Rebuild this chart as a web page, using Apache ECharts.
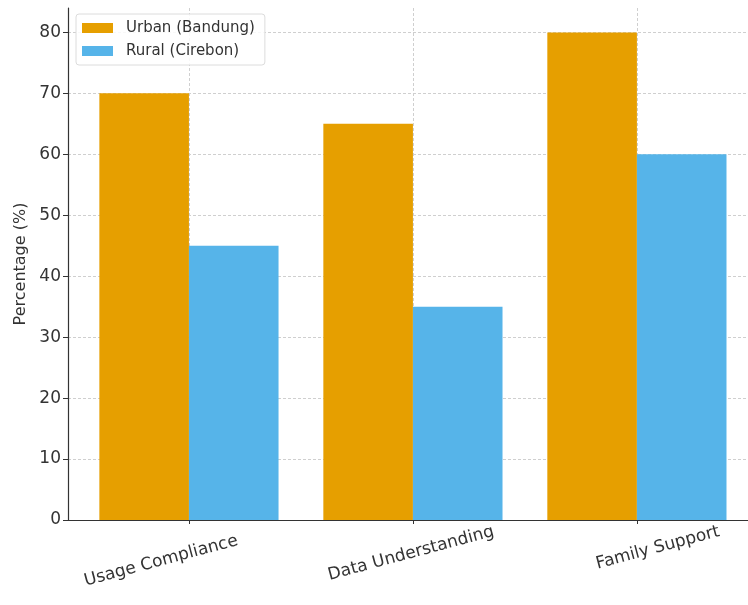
<!DOCTYPE html>
<html>
<head>
<meta charset="utf-8">
<script src="https://cdn.jsdelivr.net/npm/echarts@6/dist/echarts.min.js"></script>
<style>
  html, body { margin: 0; padding: 0; background: #fff; }
  #chart { width: 748px; height: 605px; }
</style>
</head>
<body>
<div id="chart"></div>
<script>
// Survey results by region
const categories = ['Usage Compliance', 'Data Understanding', 'Family Support'];
const seriesNames = ['Urban (Bandung)', 'Rural (Cirebon)'];
const urbanValues = [70, 65, 80];
const ruralValues = [45, 35, 60];
const yTicks = [0, 10, 20, 30, 40, 50, 60, 70, 80];
const categoryPositions = [0, 1, 2];

const FONT = 'DejaVu Sans';
const ORANGE = '#E69F00';
const BLUE = '#56B4E9';
const BAR_UNITS = 0.4;   // width of one bar in category units
const X_MIN = -0.54, X_MAX = 2.496;

const chart = echarts.init(document.getElementById('chart'), null, { renderer: 'canvas' });

const gridLeft = 68, gridRight = 0;
const plotWidth = 748 - gridLeft - gridRight;
const barPx = plotWidth / (X_MAX - X_MIN) * BAR_UNITS;

// per-label rich styles to place each rotated category label
const labelKeys = ['c0', 'c1', 'c2'];
const rich = {
  c0: { fontFamily: FONT, fontSize: 17, color: '#333', padding: [1, 58, 0, 0] },
  c1: { fontFamily: FONT, fontSize: 17, color: '#333', padding: [0, 4, 0, 0] },
  c2: { fontFamily: FONT, fontSize: 17, color: '#333', padding: [1, 0, 0, 43] }
};

const dashed = { color: '#cfcfcf', width: 1, type: [3, 2] };

chart.setOption({
  animation: false,
  backgroundColor: '#fff',
  color: [ORANGE, BLUE],
  grid: { left: gridLeft, right: gridRight, top: 8, bottom: 85, containLabel: false },
  legend: {
    orient: 'vertical',
    left: 76, top: 14,
    padding: [5, 10, 5, 6],
    itemWidth: 31, itemHeight: 10, itemGap: 5,
    icon: 'rect',
    backgroundColor: 'rgba(255,255,255,0.85)',
    borderColor: '#dcdcdc', borderWidth: 1, borderRadius: 3,
    textStyle: { fontFamily: FONT, fontSize: 15, color: '#333', lineHeight: 18, padding: [0, 0, 0, 8] },
    data: seriesNames
  },
  xAxis: {
    type: 'value',
    min: X_MIN, max: X_MAX,
    axisLine: { show: true, onZero: false, lineStyle: { color: '#333', width: 1.2 } },
    axisTick: { show: true, length: 4, customValues: categoryPositions, lineStyle: { color: '#333' } },
    splitLine: { show: true, lineStyle: dashed },
    axisLabel: {
      customValues: categoryPositions,
      rotate: 15,
      margin: 33,
      align: 'center',
      verticalAlign: 'middle',
      fontFamily: FONT, fontSize: 17, color: '#333',
      formatter: v => {
        const i = Math.round(v);
        return '{' + labelKeys[i] + '|' + categories[i] + '}';
      },
      rich: rich
    }
  },
  yAxis: {
    type: 'value',
    min: 0, max: 84,
    name: 'Percentage (%)',
    nameLocation: 'middle',
    nameGap: 38,
    nameTextStyle: { fontFamily: FONT, fontSize: 16, color: '#333' },
    axisLine: { show: true, onZero: false, lineStyle: { color: '#333', width: 1.2 } },
    axisTick: { show: true, length: 5, customValues: yTicks, lineStyle: { color: '#333' } },
    splitLine: { show: true, lineStyle: dashed },
    axisLabel: {
      customValues: yTicks,
      margin: 7,
      fontFamily: FONT, fontSize: 17, color: '#333'
    }
  },
  series: [
    {
      name: seriesNames[0],
      type: 'bar',
      barWidth: barPx,
      barGap: '-100%',
      data: urbanValues.map((v, i) => [categoryPositions[i] - BAR_UNITS / 2, v])
    },
    {
      name: seriesNames[1],
      type: 'bar',
      barWidth: barPx,
      barGap: '-100%',
      data: ruralValues.map((v, i) => [categoryPositions[i] + BAR_UNITS / 2, v])
    }
  ]
});
</script>
</body>
</html>
